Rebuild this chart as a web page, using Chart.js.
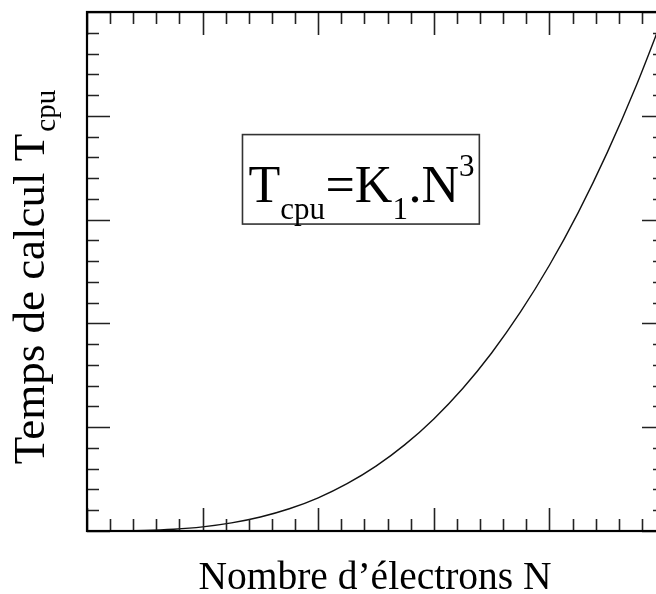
<!DOCTYPE html>
<html>
<head>
<meta charset="utf-8">
<script src="https://cdn.jsdelivr.net/npm/chart.js@4.4.1/dist/chart.umd.min.js"></script>
<style>
html,body{margin:0;padding:0;overflow:hidden;background:#ffffff;}
#wrap{width:680px;height:594px;}
</style>
</head>
<body>
<div id="wrap"><canvas id="c" width="680" height="594"></canvas></div>
<script>
// ---- data (arbitrary units: 5 major divisions per axis) ----
const electronCount = [0, 0.25, 0.5, 0.75, 1, 1.25, 1.5, 1.75, 2, 2.25, 2.5, 2.75, 3, 3.25, 3.5, 3.75, 4, 4.25, 4.5, 4.75, 5];
const cpuTime       = [0, 0.001, 0.005, 0.017, 0.04, 0.078, 0.135, 0.214, 0.32, 0.456, 0.625, 0.832, 1.08, 1.373, 1.715, 2.11, 2.56, 3.07, 3.645, 4.287, 5.0];

// tick positions (no labels are printed in the original)
const xMajorTicks = [0, 1, 2, 3, 4, 5];
const xMinorTicks = [0.2, 0.4, 0.6, 0.8, 1.2, 1.4, 1.6, 1.8, 2.2, 2.4, 2.6, 2.8, 3.2, 3.4, 3.6, 3.8, 4.2, 4.4, 4.6, 4.8];
const yMajorTicks = [0, 1, 2, 3, 4, 5];
const yMinorTicks = [0.2, 0.4, 0.6, 0.8, 1.2, 1.4, 1.6, 1.8, 2.2, 2.4, 2.6, 2.8, 3.2, 3.4, 3.6, 3.8, 4.2, 4.4, 4.6, 4.8];

// texts
const xTitle = "Nombre d’électrons N";
const yTitleMain = "Temps de calcul T";
const yTitleSub = "cpu";
// formula: [text, kind] kind: n = normal, sub = subscript, sup = superscript
const formulaParts = [["T", "n"], ["cpu", "sub"], ["=K", "n"], ["1", "sub"], [".N", "n"], ["3", "sup"]];

const FONT = "'Liberation Serif', 'Times New Roman', serif";

const decorPlugin = {
  id: 'decor',
  afterDraw(chart) {
    const ctx = chart.ctx;
    const xs = chart.scales.x, ys = chart.scales.y;
    const ca = chart.chartArea;
    ctx.save();

    // inward ticks
    ctx.strokeStyle = '#222';
    ctx.lineWidth = 1.6;
    const drawX = (v, len) => {
      const p = Math.round(xs.getPixelForValue(v)) + 0.5;
      ctx.beginPath();
      ctx.moveTo(p, ca.bottom); ctx.lineTo(p, ca.bottom - len);
      ctx.moveTo(p, ca.top); ctx.lineTo(p, ca.top + len);
      ctx.stroke();
    };
    const drawY = (v, len) => {
      const p = Math.round(ys.getPixelForValue(v)) + 0.5;
      ctx.beginPath();
      ctx.moveTo(ca.left, p); ctx.lineTo(ca.left + len, p);
      ctx.moveTo(ca.right, p); ctx.lineTo(ca.right - len, p);
      ctx.stroke();
    };
    xMinorTicks.forEach(v => drawX(v, 12));
    xMajorTicks.forEach(v => drawX(v, 23));
    yMinorTicks.forEach(v => drawY(v, 12));
    yMajorTicks.forEach(v => drawY(v, 23));

    // frame
    ctx.strokeStyle = '#000';
    ctx.lineWidth = 2.2;
    ctx.strokeRect(ca.left, ca.top, ca.right - ca.left, ca.bottom - ca.top);

    // formula box
    const bx0 = xs.getPixelForValue(1.345), bx1 = xs.getPixelForValue(3.394);
    const by0 = ys.getPixelForValue(3.819), by1 = ys.getPixelForValue(2.957);
    ctx.lineWidth = 1.6;
    ctx.strokeStyle = '#333';
    ctx.strokeRect(bx0, by0, bx1 - bx0, by1 - by0);

    ctx.fillStyle = '#000';
    ctx.textBaseline = 'alphabetic';
    ctx.textAlign = 'left';
    let cx = bx0 + 6;
    const base = by0 + 67;
    formulaParts.forEach(([t, kind]) => {
      let size = 52, dy = 0;
      if (kind === 'sub') { size = 31; dy = 17; }
      if (kind === 'sup') { size = 31; dy = -26; }
      ctx.font = size + 'px ' + FONT;
      ctx.fillText(t, cx, base + dy);
      cx += ctx.measureText(t).width + (kind === 'n' ? 0 : 0.5);
    });

    // x title
    ctx.font = '39.5px ' + FONT;
    ctx.textAlign = 'center';
    ctx.fillText(xTitle, (ca.left + ca.right) / 2 - 1, 589);

    // y title (rotated)
    ctx.translate(44, 277);
    ctx.rotate(-Math.PI / 2);
    ctx.font = '45px ' + FONT;
    const wMain = ctx.measureText(yTitleMain).width;
    ctx.font = '29px ' + FONT;
    const wSub = ctx.measureText(yTitleSub).width;
    const total = wMain + wSub + 2;
    ctx.textAlign = 'left';
    ctx.font = '45px ' + FONT;
    ctx.fillText(yTitleMain, -total / 2, 0);
    ctx.font = '29px ' + FONT;
    ctx.fillText(yTitleSub, -total / 2 + wMain + 2, 11);

    ctx.restore();
  }
};

new Chart(document.getElementById('c'), {
  type: 'line',
  data: {
    labels: electronCount,
    datasets: [{
      data: electronCount.map((x, i) => ({ x: x, y: cpuTime[i] })),
      borderColor: '#111',
      borderWidth: 1.4,
      pointRadius: 0,
      fill: false,
      cubicInterpolationMode: 'monotone'
    }]
  },
  options: {
    responsive: false,
    animation: false,
    devicePixelRatio: 1,
    layout: { padding: { left: 87, top: 12, right: 15, bottom: 63 } },
    plugins: { legend: { display: false }, tooltip: { enabled: false } },
    scales: {
      x: { type: 'linear', min: 0, max: 5, display: false },
      y: { type: 'linear', min: 0, max: 5, display: false }
    }
  },
  plugins: [decorPlugin]
});
</script>
</body>
</html>
